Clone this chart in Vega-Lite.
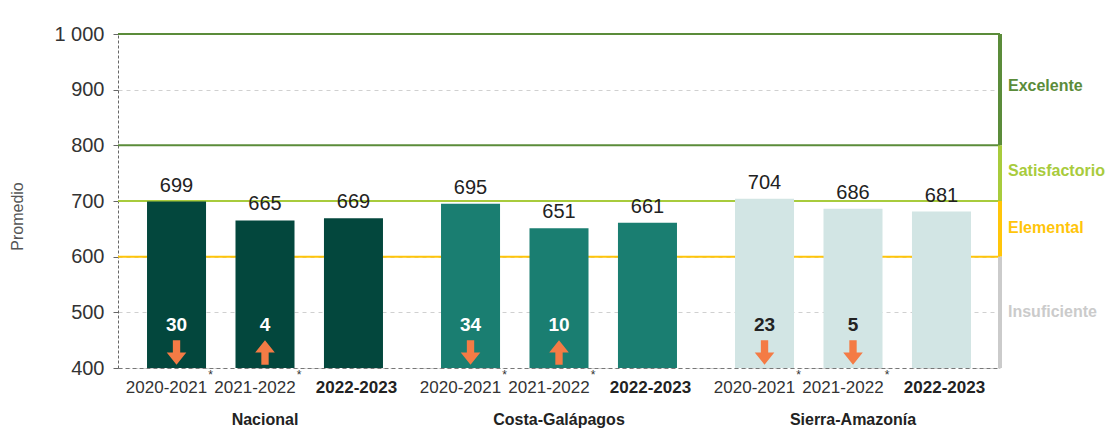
{
  "$schema": "https://vega.github.io/schema/vega-lite/v6.json",
  "width": 882,
  "height": 334,
  "autosize": "none",
  "padding": {"left": 118, "top": 34, "right": 119, "bottom": 60},
  "config": {"font": "Liberation Sans", "view": {"stroke": null}},
  "datasets": {
    "scores": [
      {"region": "Nacional", "year": "2020-2021", "value": 699, "change": 30, "dir": "down", "note": "*"},
      {"region": "Nacional", "year": "2021-2022", "value": 665, "change": 4, "dir": "up", "note": "*"},
      {"region": "Nacional", "year": "2022-2023", "value": 669, "change": null, "dir": null, "note": null},
      {"region": "Costa-Galápagos", "year": "2020-2021", "value": 695, "change": 34, "dir": "down", "note": "*"},
      {"region": "Costa-Galápagos", "year": "2021-2022", "value": 651, "change": 10, "dir": "up", "note": "*"},
      {"region": "Costa-Galápagos", "year": "2022-2023", "value": 661, "change": null, "dir": null, "note": null},
      {"region": "Sierra-Amazonía", "year": "2020-2021", "value": 704, "change": 23, "dir": "down", "note": "*"},
      {"region": "Sierra-Amazonía", "year": "2021-2022", "value": 686, "change": 5, "dir": "down", "note": "*"},
      {"region": "Sierra-Amazonía", "year": "2022-2023", "value": 681, "change": null, "dir": null, "note": null}
    ],
    "thresholds": [
      {"v": 1000, "level": "Excelente"},
      {"v": 800, "level": "Excelente"},
      {"v": 700, "level": "Satisfactorio"},
      {"v": 600, "level": "Elemental"}
    ],
    "levels": [
      {"level": "Excelente", "lo": 800, "hi": 1000, "mid": 907},
      {"level": "Satisfactorio", "lo": 700, "hi": 800, "mid": 753},
      {"level": "Elemental", "lo": 600, "hi": 700, "mid": 652},
      {"level": "Insuficiente", "lo": 400, "hi": 600, "mid": 500}
    ]
  },
  "layer": [
    {
      "layer": [
        {
          "data": {"name": "thresholds"},
          "mark": {"type": "rule", "strokeWidth": 2},
          "encoding": {
            "y": {"field": "v", "type": "quantitative", "scale": {"domain": [400, 1000]}},
            "color": {"field": "level", "type": "nominal", "legend": null,
              "scale": {"domain": ["Nacional", "Costa-Galápagos", "Sierra-Amazonía", "Excelente", "Satisfactorio", "Elemental", "Insuficiente"],
                        "range": ["#03473d", "#1a7e71", "#d2e5e4", "#5b8c3a", "#a8cb3c", "#ffc50a", "#cbcbcb"]}}
          }
        },
        {
          "data": {"name": "scores"},
          "mark": {"type": "bar"},
          "encoding": {
            "x": {"field": "region", "type": "nominal",
              "scale": {"domain": ["Nacional", "Costa-Galápagos", "Sierra-Amazonía"], "paddingInner": 0, "paddingOuter": 0},
              "axis": {"title": null, "labelAngle": 0, "labelFontSize": 16, "labelFontWeight": "bold", "labelColor": "#222",
                       "labelPadding": 43, "ticks": false, "domainDash": [4, 3], "domainColor": "#777"}},
            "xOffset": {"field": "year", "type": "nominal", "scale": {"paddingInner": 0.333, "paddingOuter": 0.328}},
            "y": {"field": "value", "type": "quantitative", "scale": {"domain": [400, 1000]},
              "axis": {"values": [400, 500, 600, 700, 800, 900, 1000],
                       "labelExpr": "datum.value == 1000 ? '1 000' : datum.label",
                       "grid": true, "gridDash": [4, 4], "gridColor": "#d0d0d0",
                       "domainDash": [3, 2], "domainColor": "#666", "tickColor": "#666", "tickSize": 5,
                       "labelFontSize": 20, "labelColor": "#333", "labelPadding": 9,
                       "title": "Promedio", "titleFontSize": 16, "titleFontWeight": "normal", "titleColor": "#555",
                       "titlePadding": 28, "titleY": 182}},
            "y2": {"datum": 400},
            "color": {"field": "region", "type": "nominal", "legend": null,
              "scale": {"domain": ["Nacional", "Costa-Galápagos", "Sierra-Amazonía", "Excelente", "Satisfactorio", "Elemental", "Insuficiente"],
                        "range": ["#03473d", "#1a7e71", "#d2e5e4", "#5b8c3a", "#a8cb3c", "#ffc50a", "#cbcbcb"]}}
          }
        },
        {
          "data": {"name": "scores"},
          "mark": {"type": "text", "baseline": "bottom", "dy": -6, "fontSize": 20, "color": "#222"},
          "encoding": {
            "x": {"field": "region", "type": "nominal"},
            "xOffset": {"field": "year", "type": "nominal"},
            "y": {"field": "value", "type": "quantitative"},
            "text": {"field": "value", "type": "quantitative"}
          }
        },
        {
          "data": {"name": "scores"},
          "transform": [{"filter": "datum.change != null"}],
          "mark": {"type": "text", "baseline": "middle", "fontSize": 19, "fontWeight": "bold"},
          "encoding": {
            "x": {"field": "region", "type": "nominal"},
            "xOffset": {"field": "year", "type": "nominal"},
            "y": {"datum": 478, "type": "quantitative"},
            "text": {"field": "change", "type": "quantitative"},
            "color": {"condition": {"test": "datum.region == 'Sierra-Amazonía'", "value": "#222"}, "value": "#ffffff"}
          }
        },
        {
          "data": {"name": "scores"},
          "transform": [{"filter": "datum.dir != null"}],
          "mark": {"type": "point", "filled": true, "opacity": 1, "size": 600, "color": "#f47b45"},
          "encoding": {
            "x": {"field": "region", "type": "nominal"},
            "xOffset": {"field": "year", "type": "nominal"},
            "y": {"datum": 428, "type": "quantitative"},
            "shape": {"field": "dir", "type": "nominal", "legend": null,
              "scale": {"domain": ["down", "up"],
                        "range": ["M-0.3,-1L0.3,-1L0.3,0L0.8,0L0,1L-0.8,0L-0.3,0Z", "M-0.3,1L0.3,1L0.3,0L0.8,0L0,-1L-0.8,0L-0.3,0Z"]}}
          }
        },
        {
          "data": {"name": "scores"},
          "transform": [{"filter": "datum.year != '2022-2023'"}],
          "mark": {"type": "text", "baseline": "top", "dy": 12, "dx": -10, "fontSize": 17, "color": "#333"},
          "encoding": {
            "x": {"field": "region", "type": "nominal"},
            "xOffset": {"field": "year", "type": "nominal"},
            "y": {"datum": 400, "type": "quantitative"},
            "text": {"field": "year", "type": "nominal"}
          }
        },
        {
          "data": {"name": "scores"},
          "transform": [{"filter": "datum.year == '2022-2023'"}],
          "mark": {"type": "text", "baseline": "top", "dy": 12, "dx": 3, "fontSize": 17, "fontWeight": "bold", "color": "#222"},
          "encoding": {
            "x": {"field": "region", "type": "nominal"},
            "xOffset": {"field": "year", "type": "nominal"},
            "y": {"datum": 400, "type": "quantitative"},
            "text": {"field": "year", "type": "nominal"}
          }
        },
        {
          "data": {"name": "scores"},
          "transform": [{"filter": "datum.note != null"}],
          "mark": {"type": "text", "baseline": "top", "dy": 2, "dx": 34, "fontSize": 12, "color": "#333"},
          "encoding": {
            "x": {"field": "region", "type": "nominal"},
            "xOffset": {"field": "year", "type": "nominal"},
            "y": {"datum": 400, "type": "quantitative"},
            "text": {"field": "note", "type": "nominal"}
          }
        }
      ]
    },
    {
      "data": {"name": "levels"},
      "layer": [
        {
          "mark": {"type": "rule", "strokeWidth": 4},
          "encoding": {
            "x": {"datum": 1, "type": "quantitative", "scale": {"domain": [0, 1]}, "axis": null},
            "y": {"field": "lo", "type": "quantitative"},
            "y2": {"field": "hi"},
            "color": {"field": "level", "type": "nominal", "legend": null}
          }
        },
        {
          "mark": {"type": "text", "align": "left", "baseline": "middle", "dx": 8, "fontSize": 16, "fontWeight": "bold"},
          "encoding": {
            "x": {"datum": 1, "type": "quantitative", "scale": {"domain": [0, 1]}, "axis": null},
            "y": {"field": "mid", "type": "quantitative"},
            "text": {"field": "level", "type": "nominal"},
            "color": {"field": "level", "type": "nominal", "legend": null}
          }
        }
      ]
    }
  ],
  "resolve": {"scale": {"x": "independent"}}
}
